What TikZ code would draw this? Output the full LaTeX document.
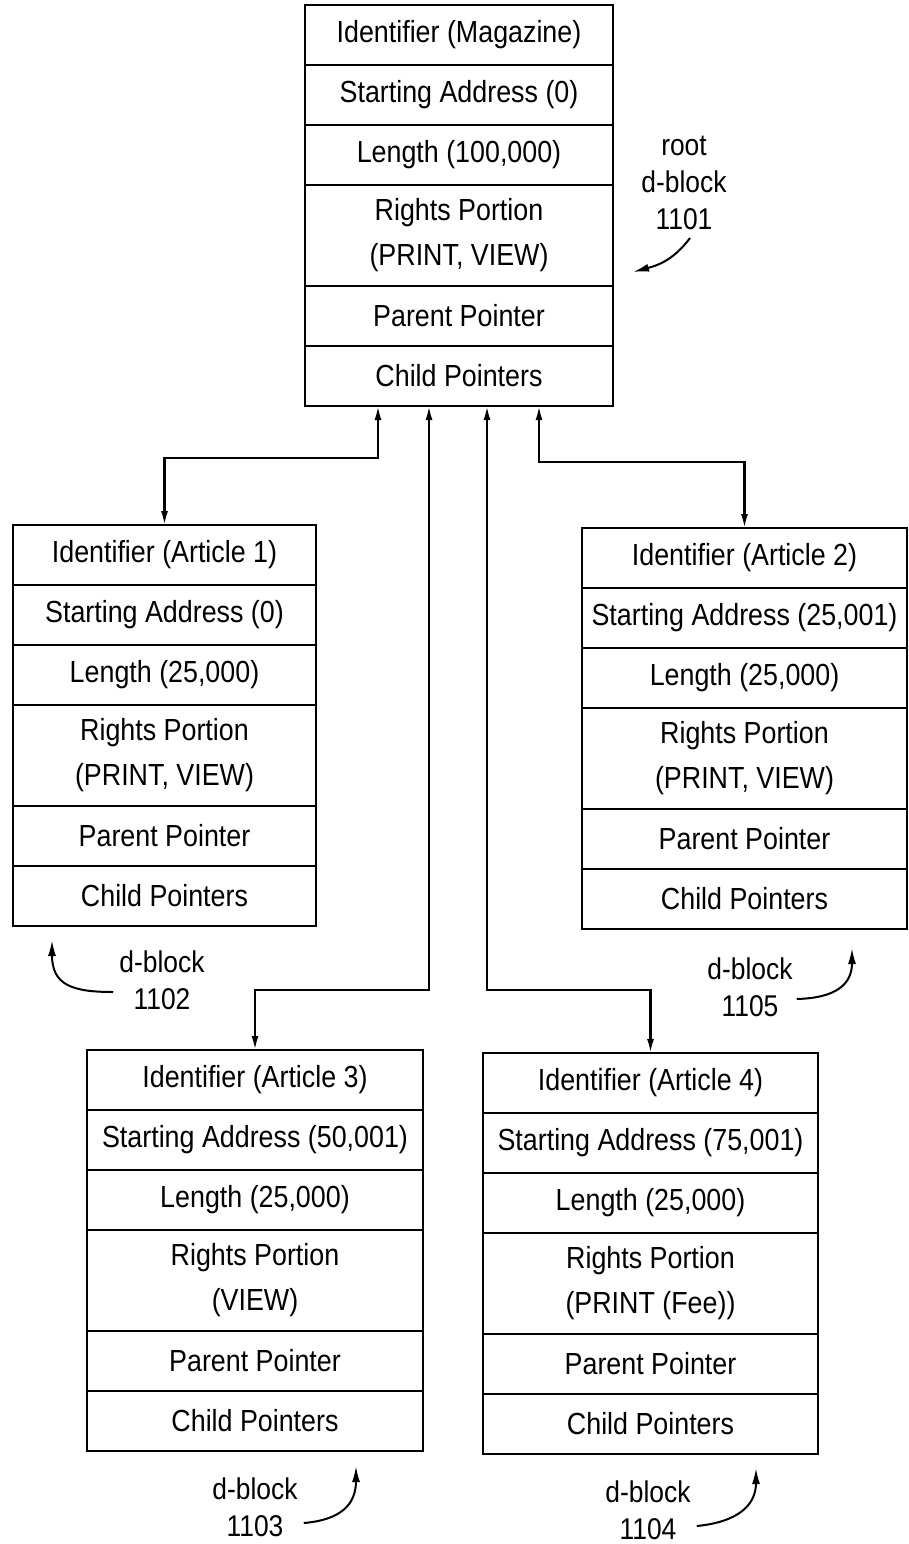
\documentclass[tikz,border=0pt]{standalone}
\usepackage{fontspec}
\setmainfont[FakeStretch=0.88]{Liberation Sans}
\usetikzlibrary{arrows.meta,calc}
\tikzset{
  cell/.style={draw, line width=2.2pt, inner sep=0pt, outer sep=0pt, anchor=north,
    minimum height=60pt, align=center, font=\fontsize{30.5}{45}\selectfont},
  conn/.style={line width=2.2pt, {Latex[length=14pt,width=7pt]}-{Latex[length=14pt,width=7pt]}},
  lbl/.style={align=center, font=\fontsize{30}{37}\selectfont, inner sep=0pt},
  callout/.style={line width=2pt, -{Latex[length=16pt,width=8pt]}},
}
\newcommand\mkblock[8]{%
  \node[cell, minimum width=#3pt] (#1a) at (#2pt,-#4pt) {#5};
  \node[cell, minimum width=#3pt] (#1b) at (#1a.south) {#6};
  \node[cell, minimum width=#3pt] (#1c) at (#1b.south) {#7};
  \node[cell, minimum width=#3pt, minimum height=101pt] (#1d) at (#1c.south) {#8};
  \node[cell, minimum width=#3pt] (#1e) at (#1d.south) {Parent Pointer};
  \node[cell, minimum width=#3pt] (#1f) at (#1e.south) {Child Pointers};
}
\begin{document}
\begin{tikzpicture}[x=1pt,y=1pt]
\useasboundingbox (0,0) rectangle (909,-1544);
\mkblock{root}{459}{308}{5}{Identifier (Magazine)}{Starting Address (0)}{Length (100,000)}{Rights Portion\\(PRINT, VIEW)}
\mkblock{ba}{164.5}{303}{525}{Identifier (Article 1)}{Starting Address (0)}{Length (25,000)}{Rights Portion\\(PRINT, VIEW)}
\mkblock{bb}{744.5}{325}{528}{Identifier (Article 2)}{Starting Address (25,001)}{Length (25,000)}{Rights Portion\\(PRINT, VIEW)}
\mkblock{bc}{255}{336}{1050}{Identifier (Article 3)}{Starting Address (50,001)}{Length (25,000)}{Rights Portion\\(VIEW)}
\mkblock{bd}{650.5}{335}{1053}{Identifier (Article 4)}{Starting Address (75,001)}{Length (25,000)}{Rights Portion\\(PRINT (Fee))}

% connectors
\draw[conn] ([xshift=73pt]rootf.south west) -- ++(0,-52) -| (baa.north);
\draw[conn] ([xshift=124pt]rootf.south west) -- ++(0,-584) -| (bca.north);
\draw[conn] ([xshift=182pt]rootf.south west) -- ++(0,-584) -| (bda.north);
\draw[conn] ([xshift=234pt]rootf.south west) -- ++(0,-56) -| (bba.north);

% labels
\node[lbl] (l1101) at (684,-183) {root\\d-block\\1101};
\node[lbl] (l1102) at (162,-980) {d-block\\1102};
\node[lbl] (l1105) at (750,-987) {d-block\\1105};
\node[lbl] (l1103) at (255,-1507) {d-block\\1103};
\node[lbl] (l1104) at (648,-1510) {d-block\\1104};

\coordinate (t1101) at (633,-272);
\coordinate (t1102) at (52,-940);
\coordinate (t1105) at (852,-948);
\coordinate (t1103) at (356,-1466);
\coordinate (t1104) at (756,-1468);

\draw[callout] ([shift={(6pt,-8pt)}]l1101.south) .. controls (672,-262) and (655,-266) .. (t1101);
\draw[callout] ([shift={(-6pt,-12pt)}]l1102.west) .. controls (72,-992) and (52,-985) .. (t1102);
\draw[callout] ([shift={(4pt,-12pt)}]l1105.east) .. controls (835,-998) and (852,-985) .. (t1105);
\draw[callout] ([shift={(6pt,-16pt)}]l1103.east) .. controls (340,-1520) and (356,-1505) .. (t1103);
\draw[callout] ([shift={(6pt,-16pt)}]l1104.east) .. controls (738,-1522) and (756,-1505) .. (t1104);
\end{tikzpicture}
\end{document}
